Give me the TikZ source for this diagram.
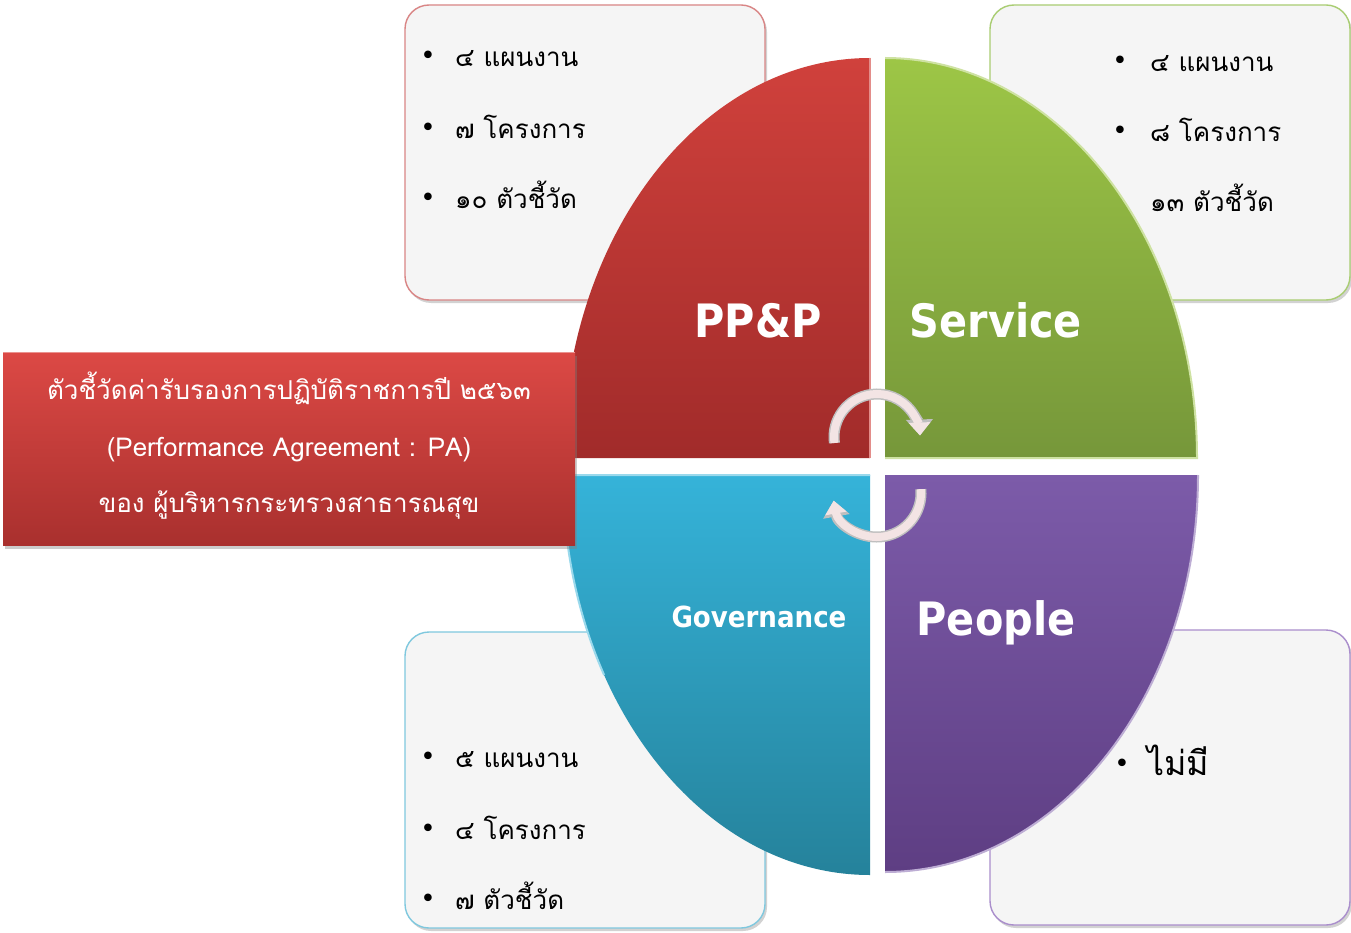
\documentclass[tikz,border=0pt]{standalone}
\usepackage{fontspec}
\usetikzlibrary{shadows,arrows.meta,calc}
\newfontfamily\thai[Script=Thai]{Loma}
\newfontfamily\lbl{DejaVu Sans Condensed}
\newfontfamily\sym{DejaVu Sans}
\definecolor{boxfill}{HTML}{F5F5F5}
\definecolor{redline}{HTML}{D98585}
\definecolor{greenline}{HTML}{A9CD72}
\definecolor{blueline}{HTML}{7FC8DE}
\definecolor{purpleline}{HTML}{AA8ECC}
\definecolor{redtop}{HTML}{D0413C}
\definecolor{redbot}{HTML}{A12B2A}
\definecolor{greentop}{HTML}{9DC646}
\definecolor{greenbot}{HTML}{76973A}
\definecolor{bluetop}{HTML}{35B3D9}
\definecolor{bluebot}{HTML}{25829B}
\definecolor{purptop}{HTML}{7C5BA9}
\definecolor{purpbot}{HTML}{5E3E83}
\definecolor{bantop}{HTML}{DC4945}
\definecolor{banbot}{HTML}{A9302E}
\definecolor{arrowpale}{HTML}{F3E4E4}
\begin{document}
\begin{tikzpicture}[x=1pt,y=-1pt,
  infobox/.style={rounded corners=24pt, fill=boxfill, line width=1.4pt,
    drop shadow={shadow xshift=2pt, shadow yshift=-3pt, opacity=.35}},
  item/.style={anchor=base west, inner sep=0, text=black,
    font=\thai\fontsize{26}{30}\selectfont},
  bul/.style={anchor=base, inner sep=0, text=black, font=\sym\fontsize{26}{28}\selectfont},
  quadlabel/.style={anchor=base, inner sep=0, text=white,
    font=\lbl\bfseries\fontsize{46}{50}\selectfont},
  bantext/.style={anchor=base, inner sep=0, text=white,
    font=\thai\fontsize{26}{30}\selectfont},
  arrowback/.style={line width=11pt, draw=gray!50, -{Triangle[width=26pt,length=16pt]}},
  arrowfront/.style={line width=8pt, draw=arrowpale, -{Triangle[width=21pt,length=13pt]}}
]
\useasboundingbox (0,0) rectangle (1351,933);
\fill[white] (0,0) rectangle (1351,933);

% info boxes
\path[infobox, draw=redline] (405,5) rectangle (765,300);
\path[infobox, draw=greenline] (990,5) rectangle (1350,300);
\path[infobox, draw=blueline] (405,632) rectangle (765,928);
\path[infobox, draw=purpleline] (990,630) rectangle (1350,925);

% quadrants
\shade[top color=redtop, bottom color=redbot]
  (870,458) -- (563,458) arc[start angle=180, end angle=270, x radius=307, y radius=400] -- cycle;
\draw[redtop!60!white, line width=1.5pt] (870,58) -- (870,458);
\shade[top color=greentop, bottom color=greenbot]
  (885,458) -- (885,58) arc[start angle=270, end angle=360, x radius=312, y radius=400] -- cycle;
\draw[greentop!50!white, line width=2pt] (885,58) arc[start angle=270, end angle=360, x radius=312, y radius=400] -- (885,458);
\shade[top color=bluetop, bottom color=bluebot]
  (870,475) -- (870,875) arc[start angle=90, end angle=180, x radius=307, y radius=400] -- cycle;
\draw[bluetop!50!white, line width=2pt] (870,475) -- (563,475) arc[start angle=180, end angle=150, x radius=307, y radius=400];
\shade[top color=purptop, bottom color=purpbot]
  (885,475) -- (1198,475) arc[start angle=0, end angle=90, x radius=313, y radius=397] -- cycle;
\draw[purptop!50!white, line width=2pt] (1198,475) arc[start angle=0, end angle=90, x radius=313, y radius=397];

% banner
\path[top color=bantop, bottom color=banbot,
  drop shadow={shadow xshift=2pt, shadow yshift=-4pt, opacity=.4}]
  (3,352) rectangle (575,545);
\draw[bantop!60!white, line width=1pt] (3,352.5) -- (575,352.5);
\node[bantext] (b1) at (289,399) {ตัวชี้วัดค่ารับรองการปฏิบัติราชการปี ๒๕๖๓};
\node[bantext] (b2) at (289,456) {(Performance Agreement : PA)};
\node[bantext] (b3) at (289,512) {ของ ผู้บริหารกระทรวงสาธารณสุข};

% cycle arrows
\coordinate (ct) at (877,437);
\coordinate (cb) at (877,493);
\draw[arrowback] ($(ct)+(172:43)$) arc[start angle=172, end angle=358, radius=43];
\draw[arrowfront] ($(ct)+(172:43)$) arc[start angle=172, end angle=358, radius=43];
\draw[arrowback] ($(cb)+(-5:44)$) arc[start angle=-5, end angle=170, radius=44];
\draw[arrowfront] ($(cb)+(-5:44)$) arc[start angle=-5, end angle=170, radius=44];

% quadrant labels
\node[quadlabel] (ppp) at (758,337) {PP\&P};
\node[quadlabel] (srv) at (996,337) {Service};
\node[quadlabel, font=\lbl\bfseries\fontsize{29}{32}\selectfont] (gov) at (759,627) {Governance};
\node[quadlabel] (ppl) at (996,635) {People};

% top-left list
\node[bul] (tl1b) at (428,65) {•};
\node[item] (tl1) at (455,67) {๔ แผนงาน};
\node[bul] (tl2b) at (428,137) {•};
\node[item] (tl2) at (455,139) {๗ โครงการ};
\node[bul] (tl3b) at (428,207) {•};
\node[item] (tl3) at (455,209) {๑๐ ตัวชี้วัด};

% top-right list
\node[bul] (tr1b) at (1120,70) {•};
\node[item] (tr1) at (1150,72) {๔ แผนงาน};
\node[bul] (tr2b) at (1120,140) {•};
\node[item] (tr2) at (1150,142) {๘ โครงการ};
\node[item] (tr3) at (1150,212) {๑๓ ตัวชี้วัด};

% bottom-left list
\node[bul] (bl1b) at (428,765) {•};
\node[item] (bl1) at (455,767) {๕ แผนงาน};
\node[bul] (bl2b) at (428,837) {•};
\node[item] (bl2) at (455,839) {๔ โครงการ};
\node[bul] (bl3b) at (428,907) {•};
\node[item] (bl3) at (455,909) {๗ ตัวชี้วัด};

% bottom-right list
\node[bul] (br1b) at (1122,772) {•};
\node[item, font=\thai\fontsize{34}{38}\selectfont] (br1) at (1147,775) {ไม่มี};
\end{tikzpicture}
\end{document}
